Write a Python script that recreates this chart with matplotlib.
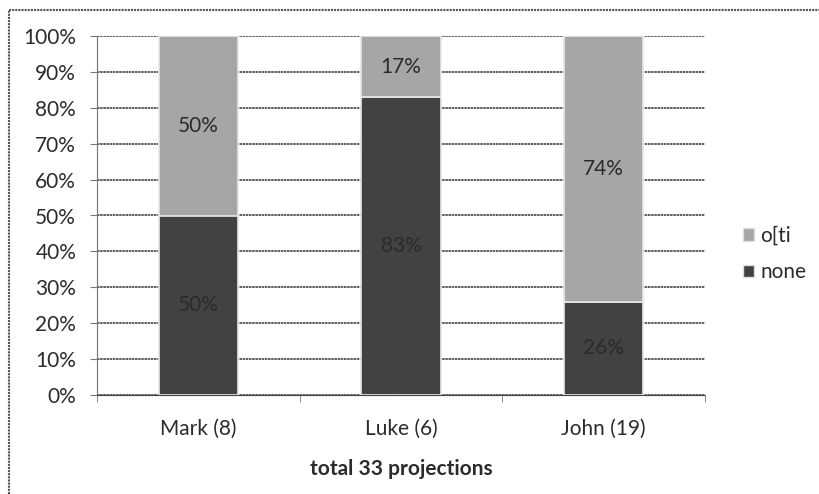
import numpy as np
import matplotlib.pyplot as plt
from matplotlib.lines import Line2D
from matplotlib.patches import Patch

plt.rcParams['font.family'] = ['Lato', 'DejaVu Sans']

categories = ['Mark (8)', 'Luke (6)', 'John (19)']
none_pct = [50, 83, 26]
olti_pct = [50, 17, 74]
y_ticks = [0, 10, 20, 30, 40, 50, 60, 70, 80, 90, 100]

light = '#a6a6a6'
dark = '#424242'
text_col = '#2b2b2b'

fig = plt.figure(figsize=(8.19, 4.94), dpi=100)
ax = fig.add_axes([97 / 819, 1 - 395 / 494, (705 - 97) / 819, (395 - 36) / 494])

# frame of the whole chart (left and top only, the rest is cut off)
fig.add_artist(Line2D([9 / 819, 9 / 819], [0, 1 - 10 / 494], transform=fig.transFigure,
                      color='#555555', lw=1.5, ls=(0, (1, 0.5))))
fig.add_artist(Line2D([9 / 819, 1], [1 - 10 / 494, 1 - 10 / 494], transform=fig.transFigure,
                      color='#555555', lw=1.5, ls=(0, (1, 0.5))))

x = np.arange(len(categories))
w = 0.39
b1 = ax.bar(x, none_pct, w, color=dark, edgecolor='#e8e8e8', lw=1.2, zorder=3)
b2 = ax.bar(x, olti_pct, w, bottom=none_pct, color=light, edgecolor='#e8e8e8', lw=1.2, zorder=3)

for i in range(len(categories)):
    ax.text(x[i], none_pct[i] / 2, '%d%%' % none_pct[i], ha='center', va='center',
            fontsize=15, color='#2a2a2a', zorder=4)
    ax.text(x[i], none_pct[i] + olti_pct[i] / 2, '%d%%' % olti_pct[i], ha='center', va='center',
            fontsize=15, color=text_col, zorder=4)

ax.set_xlim(-0.5, 2.5)
ax.set_ylim(0, 100)
ax.set_yticks(y_ticks)
ax.set_yticklabels(['%d%%' % t for t in y_ticks], fontsize=15, color=text_col)
ax.yaxis.grid(True, color='#444444', lw=1.2, ls=(0, (1.5, 0.4)), zorder=0)

ax.set_xticks(x)
ax.set_xticklabels(categories, fontsize=15, color=text_col)
ax.tick_params(axis='x', length=0, pad=17)
ax.set_xticks([-0.5, 0.5, 1.5, 2.5], minor=True)
ax.tick_params(axis='x', which='minor', length=5, color='#777777', direction='out')
ax.tick_params(axis='y', length=5, color='#777777', pad=10)

for s in ['top', 'right']:
    ax.spines[s].set_visible(False)
ax.spines['left'].set_color('#777777')
ax.spines['left'].set_linestyle((0, (1, 0.5)))
ax.spines['bottom'].set_color('#444444')
ax.spines['bottom'].set_linestyle((0, (1.5, 0.4)))

ax.set_xlabel('total 33 projections', fontsize=15, fontweight='bold', color=text_col, labelpad=15)

handles = [Patch(facecolor=light, edgecolor='#dddddd'), Patch(facecolor=dark, edgecolor='#dddddd')]
fig.legend(handles, ['o[ti', 'none'], loc='center left', bbox_to_anchor=(724 / 819, 1 - 254 / 494),
           frameon=False, fontsize=15, handlelength=0.55, handleheight=0.55, handletextpad=0.3,
           labelspacing=0.8, labelcolor=text_col)

fig.savefig('out.png', dpi=100, facecolor='white')
